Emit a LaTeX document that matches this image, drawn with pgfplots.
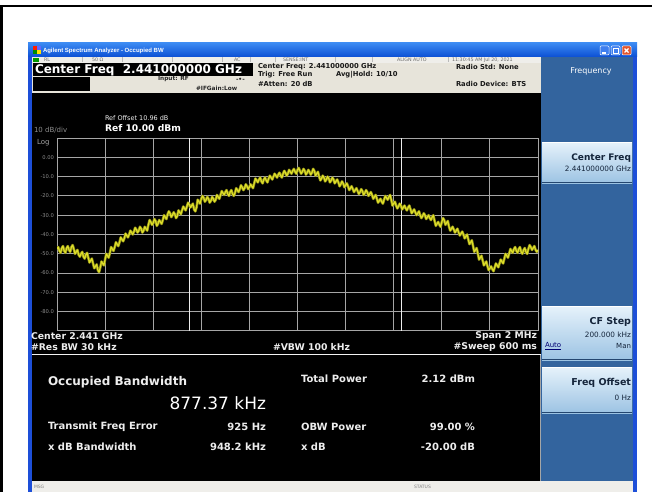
\documentclass[border=0pt]{standalone}
\usepackage{fontspec}
\setmainfont{DejaVu Sans}
\newfontfamily\lib{Liberation Sans}
\usepackage{pgfplots}
\usepackage{pgfplotstable}
\pgfplotsset{compat=1.18}
\newcommand{\fs}[1]{\fontsize{#1}{#1}\selectfont}

\definecolor{xpT}{HTML}{3C8AF2}
\definecolor{xpB}{HTML}{0B4FD4}
\definecolor{winblue}{HTML}{1D4FD8}
\definecolor{xpbtn}{HTML}{3F7FEF}
\definecolor{xpred}{HTML}{E2562E}
\definecolor{panelblue}{HTML}{33649E}
\definecolor{hdrbg}{HTML}{E7E4DA}
\definecolor{statbg}{HTML}{EFEEEA}
\definecolor{btnT}{HTML}{E6F2FB}
\definecolor{btnB}{HTML}{9CC3E3}
\definecolor{btntext}{HTML}{14243A}
\definecolor{traceY}{HTML}{DEDE2A}
\definecolor{traceO}{HTML}{8C8C16}
\definecolor{gridc}{HTML}{A6A6A6}
\definecolor{lblgray}{HTML}{8E8E8E}
\definecolor{dtext}{HTML}{EDEDED}

\pgfplotstableread{
x y
-1.000 -47.5
-0.995 -46.5
-0.990 -48.5
-0.985 -49.5
-0.980 -47
-0.975 -46
-0.970 -48.5
-0.965 -49.5
-0.960 -47
-0.955 -46
-0.950 -48
-0.945 -49
-0.940 -46.5
-0.935 -45.5
-0.930 -47.5
-0.925 -50
-0.920 -49
-0.915 -48
-0.910 -50.5
-0.905 -51.5
-0.900 -50
-0.895 -49
-0.890 -51.5
-0.885 -52.5
-0.880 -50.5
-0.875 -49.5
-0.870 -52
-0.865 -54.5
-0.860 -53.5
-0.855 -52.5
-0.850 -55
-0.845 -57.5
-0.840 -56.5
-0.835 -55.5
-0.830 -58.5
-0.825 -59.5
-0.820 -57
-0.815 -54
-0.810 -55
-0.805 -56
-0.800 -53
-0.795 -50
-0.790 -51
-0.785 -52
-0.780 -49.5
-0.775 -46.5
-0.770 -47.5
-0.765 -48.5
-0.760 -46.5
-0.755 -44
-0.750 -45
-0.745 -46
-0.740 -44
-0.735 -41.5
-0.730 -42.5
-0.725 -43.5
-0.720 -42
-0.715 -39.5
-0.710 -40.5
-0.705 -41.5
-0.700 -40
-0.695 -38
-0.690 -39
-0.685 -40
-0.680 -38.5
-0.675 -36.5
-0.670 -37.5
-0.665 -39
-0.660 -38
-0.655 -36
-0.650 -37
-0.645 -39
-0.640 -38
-0.635 -36
-0.630 -37
-0.625 -38
-0.620 -35
-0.615 -32.5
-0.610 -33.5
-0.605 -35
-0.600 -34
-0.595 -32
-0.590 -33
-0.585 -35.5
-0.580 -34.5
-0.575 -32.5
-0.570 -33.5
-0.565 -34.5
-0.560 -32.5
-0.555 -30
-0.550 -31
-0.545 -32
-0.540 -29.5
-0.535 -28
-0.530 -29
-0.525 -31
-0.520 -30
-0.515 -28.5
-0.510 -29.5
-0.505 -31.5
-0.500 -30.5
-0.495 -27.5
-0.490 -28.5
-0.485 -29.5
-0.480 -27.5
-0.475 -25.5
-0.470 -26.5
-0.465 -27.5
-0.460 -25.5
-0.455 -23.5
-0.450 -24.5
-0.445 -26
-0.440 -25
-0.435 -24
-0.430 -27
-0.425 -28
-0.420 -26
-0.415 -22
-0.410 -23
-0.405 -24
-0.400 -21.5
-0.395 -20
-0.390 -21
-0.385 -23
-0.380 -22
-0.375 -20.5
-0.370 -21.5
-0.365 -23.5
-0.360 -22.5
-0.355 -20.5
-0.350 -21.5
-0.345 -23
-0.340 -22
-0.335 -19.5
-0.330 -20.5
-0.325 -21.5
-0.320 -19.5
-0.315 -17.5
-0.310 -18.5
-0.305 -19.5
-0.300 -18
-0.295 -17
-0.290 -19
-0.285 -20
-0.280 -18
-0.275 -17
-0.270 -19
-0.265 -20
-0.260 -18.5
-0.255 -16
-0.250 -17
-0.245 -18
-0.240 -16.5
-0.235 -14.5
-0.230 -15.5
-0.225 -17
-0.220 -16
-0.215 -14
-0.210 -15
-0.205 -16.5
-0.200 -15.5
-0.195 -14
-0.190 -15
-0.185 -16
-0.180 -13.5
-0.175 -11
-0.170 -12
-0.165 -13
-0.160 -11.5
-0.155 -10.5
-0.150 -12.5
-0.145 -13.5
-0.140 -11.5
-0.135 -10.5
-0.130 -12
-0.125 -13
-0.120 -11
-0.115 -9.5
-0.110 -10.5
-0.105 -11.5
-0.100 -10
-0.095 -8.5
-0.090 -9.5
-0.085 -10.5
-0.080 -9
-0.075 -8
-0.070 -9.5
-0.065 -10.5
-0.060 -8.5
-0.055 -7
-0.050 -8
-0.045 -9.5
-0.040 -8.5
-0.035 -6.5
-0.030 -7.5
-0.025 -8.5
-0.020 -7
-0.015 -6
-0.010 -7.5
-0.005 -8.5
0.000 -6.5
0.005 -5.5
0.010 -7
0.015 -8.5
0.020 -7.5
0.025 -6
0.030 -7
0.035 -9
0.040 -8
0.045 -6.5
0.050 -7.5
0.055 -9
0.060 -8
0.065 -6
0.070 -7
0.075 -9.5
0.080 -8.5
0.085 -7.5
0.090 -10
0.095 -12
0.100 -11
0.105 -9.5
0.110 -10.5
0.115 -12.5
0.120 -11.5
0.125 -10
0.130 -11
0.135 -13
0.140 -12
0.145 -10.5
0.150 -11.5
0.155 -13.5
0.160 -12.5
0.165 -11.5
0.170 -13
0.175 -15
0.180 -14
0.185 -12.5
0.190 -13.5
0.195 -15.5
0.200 -14.5
0.205 -13.5
0.210 -15
0.215 -17
0.220 -16
0.225 -15
0.230 -16.5
0.235 -18
0.240 -17
0.245 -16
0.250 -17.5
0.255 -19
0.260 -18
0.265 -16.5
0.270 -17.5
0.275 -19.5
0.280 -18.5
0.285 -17
0.290 -18
0.295 -20
0.300 -19
0.305 -18
0.310 -19.5
0.315 -21.5
0.320 -20.5
0.325 -19.5
0.330 -21.5
0.335 -23.5
0.340 -22.5
0.345 -21.5
0.350 -23
0.355 -24
0.360 -22
0.365 -20
0.370 -21
0.375 -22
0.380 -20.5
0.385 -19.5
0.390 -22
0.395 -25
0.400 -24
0.405 -23
0.410 -25
0.415 -26.5
0.420 -25.5
0.425 -24
0.430 -25
0.435 -27
0.440 -26
0.445 -25
0.450 -26.5
0.455 -27.5
0.460 -26
0.465 -25
0.470 -27
0.475 -29
0.480 -28
0.485 -27
0.490 -28.5
0.495 -30
0.500 -29
0.505 -28
0.510 -30
0.515 -31.5
0.520 -30.5
0.525 -29
0.530 -30
0.535 -32
0.540 -31
0.545 -30
0.550 -31.5
0.555 -32.5
0.560 -31
0.565 -30
0.570 -33
0.575 -35.5
0.580 -34.5
0.585 -33.5
0.590 -35
0.595 -36
0.600 -33.5
0.605 -31.5
0.610 -32.5
0.615 -35
0.620 -34
0.625 -33
0.630 -36
0.635 -38
0.640 -37
0.645 -36
0.650 -37.5
0.655 -39
0.660 -38
0.665 -37
0.670 -39
0.675 -40.5
0.680 -39.5
0.685 -38.5
0.690 -40
0.695 -42
0.700 -41
0.705 -40
0.710 -42.5
0.715 -45
0.720 -44
0.725 -43
0.730 -46
0.735 -49
0.740 -48
0.745 -47
0.750 -50
0.755 -53
0.760 -52
0.765 -51
0.770 -53.5
0.775 -56
0.780 -55
0.785 -54
0.790 -56.5
0.795 -58.5
0.800 -57.5
0.805 -56.5
0.810 -58
0.815 -59
0.820 -57
0.825 -55
0.830 -56
0.835 -57
0.840 -55
0.845 -53
0.850 -54
0.855 -55
0.860 -52.5
0.865 -50
0.870 -51
0.875 -52
0.880 -50
0.885 -47.5
0.890 -48.5
0.895 -49.5
0.900 -47.5
0.905 -46.5
0.910 -48.5
0.915 -49.5
0.920 -47.5
0.925 -46.5
0.930 -49
0.935 -50
0.940 -48
0.945 -47
0.950 -49
0.955 -50
0.960 -47.5
0.965 -45.5
0.970 -46.5
0.975 -48
0.980 -47
0.985 -46
0.990 -48
0.995 -49
1.000 -48
}\tracedata

\begin{document}
\begin{tikzpicture}[every node/.style={inner sep=0pt, outer sep=0pt}]
\useasboundingbox (0,0) rectangle (652pt,-492pt);
\begin{scope}[x=1pt,y=-1pt]
  \fill[white] (0,0) rectangle (652,492);
  \fill[black] (0,5) rectangle (652,7.5);
  \fill[black] (0,5) rectangle (2.5,492);
  % window frame
  \fill[winblue] (28,43) rectangle (637,492);
  \shade[top color=xpT, bottom color=xpB] (28,43) rectangle (637,57);
  % title icon
  \fill[red!75!orange] (33,46) rectangle (37,50);
  \fill[blue!60] (37,46) rectangle (41,50);
  \fill[green!55!black] (33,50) rectangle (37,54);
  \fill[yellow!85!orange] (37,50) rectangle (41,54);
  % title buttons
  \draw[white, fill=xpbtn, rounded corners=1pt, line width=0.5pt] (600,46) rectangle (609,55);
  \fill[white] (602,52.3) rectangle (605.5,53.6);
  \draw[white, fill=xpbtn, rounded corners=1pt, line width=0.5pt] (611,46) rectangle (620,55);
  \draw[white, line width=0.6pt] (613,48.5) rectangle (618,53);
  \fill[white] (613,48.3) rectangle (618,49.5);
  \draw[white, fill=xpred, rounded corners=1pt, line width=0.5pt] (622,46) rectangle (631,55);
  \draw[white, line width=1.1pt] (624.5,48.5)--(628.5,52.5) (628.5,48.5)--(624.5,52.5);
  % status row
  \fill[statbg] (32,57) rectangle (541,63);
  \foreach \sx in {82,122,172,222,250,275,335,372,448}{
    \draw[gray!55, line width=0.4pt] (\sx,57.5) -- (\sx,62.5);
  }
  \fill[green!60!black] (33,57.6) rectangle (39,62.4);
  % header
  \fill[hdrbg] (32,63) rectangle (541,93);
  \fill[black] (33,63.5) rectangle (253,76.5);
  \fill[black] (33,77) rectangle (90,91.5);
  % right panel
  \fill[panelblue] (541,57) rectangle (633,481);
  % display area
  \fill[black] (32,93) rectangle (541,354);
  \fill[black] (32,355) rectangle (541,481);
  \draw[white!90!gray, line width=1.2pt] (32,354.5) -- (541,354.5);
  \draw[gray!70, line width=0.8pt] (540.3,355) -- (540.3,481);
  % status bar
  \fill[statbg] (32,481) rectangle (633,492);
  % buttons
  \shade[top color=btnT, bottom color=btnB] (542,142) rectangle (632,183);
  \draw[white, line width=1pt] (542,142.5) -- (632,142.5);
  \draw[panelblue!70!black, line width=0.6pt] (542,182.7) -- (632,182.7);
  \shade[top color=btnT, bottom color=btnB] (542,306) rectangle (632,360);
  \draw[white, line width=1pt] (542,306.5) -- (632,306.5);
  \draw[panelblue!70!black, line width=0.6pt] (542,359.7) -- (632,359.7);
  \shade[top color=btnT, bottom color=btnB] (542,367) rectangle (632,413);
  \draw[white, line width=1pt] (542,367.5) -- (632,367.5);
  \draw[panelblue!70!black, line width=0.6pt] (542,412.7) -- (632,412.7);
\end{scope}

\begin{axis}[
  at={(57pt,-138pt)}, anchor=north west,
  scale only axis, width=481pt, height=193pt,
  xmin=-1, xmax=1, ymin=-90, ymax=10,
  xtick={-0.8,-0.6,-0.4,-0.2,0,0.2,0.4,0.6,0.8},
  ytick={-80,-70,-60,-50,-40,-30,-20,-10,0},
  xticklabels={}, yticklabels={},
  major tick length=0pt,
  grid=major, grid style={gridc, line width=0.9pt},
  axis line style={gridc, line width=1pt},
  axis background/.style={fill=black},
]
\addplot[white!85!gray, line width=1pt, forget plot] coordinates {(-0.447,-90) (-0.447,10)};
\addplot[white!85!gray, line width=1pt, forget plot] coordinates {(0.434,-90) (0.434,10)};
\addplot[traceO, line width=2.6pt, line join=round, forget plot] table[x=x,y=y] {\tracedata};
\addplot[traceY, line width=1.2pt, line join=round] table[x=x,y=y] {\tracedata};
\end{axis}

\begin{scope}[x=1pt,y=-1pt]
  % title text
  \node[anchor=west, text=white] at (43,50.5) {\lib\bfseries\fs{6}Agilent Spectrum Analyzer - Occupied BW};
  % status row text
  \begin{scope}[every node/.append style={anchor=west, text=gray!85!black, font=\fs{4.8}}]
    \node at (44,60.2) {RL};
    \node at (92,60.2) {50 Ω};
    \node at (234,60.2) {AC};
    \node at (283,60.2) {SENSE:INT};
    \node at (397,60.2) {ALIGN AUTO};
    \node at (452,60.2) {11:30:45 AM Jul 20, 2021};
  \end{scope}
  % header text
  \node[anchor=west, text=white] at (35,70.2) {\bfseries\fs{12}Center Freq\ \ 2.441000000 GHz};
  \begin{scope}[every node/.append style={anchor=west, text=black!90, font=\bfseries\fs{6.8}}]
    \node at (258,66.5) {Center Freq: 2.441000000 GHz};
    \node at (258,75) {Trig: Free Run};
    \node at (336,75) {Avg|Hold: 10/10};
    \node at (258,84) {\#Atten: 20 dB};
    \node at (456,66.5) {Radio Std: None};
    \node at (456,84) {Radio Device: BTS};
  \end{scope}
  \node[anchor=west, text=black!85] at (158,79) {\bfseries\fs{5.8}Input: RF};
  \node[anchor=west, text=black!85] at (236,80) {\bfseries\fs{6}-•-};
  \node[anchor=west, text=black!85] at (196,88) {\bfseries\fs{5.8}\#IFGain:Low};
  % display header
  \node[anchor=west, text=dtext] at (105,118) {\fs{6.5}Ref Offset 10.96 dB};
  \node[anchor=west, text=lblgray] at (34,130) {\fs{7}10 dB/div};
  \node[anchor=west, text=white] at (105,128.5) {\bfseries\fs{9.2}Ref 10.00 dBm};
  \node[anchor=west, text=lblgray!80!white] at (37,142.5) {\fs{7}Log};
  \foreach \k/\lab in {1/0.00,2/-10.0,3/-20.0,4/-30.0,5/-40.0,6/-50.0,7/-60.0,8/-70.0,9/-80.0}{
    \node[anchor=east, text=lblgray] at (54,138+19.3*\k) {\fs{5.2}\lab};
  }
  % bottom info
  \begin{scope}[every node/.append style={text=dtext, font=\bfseries\fs{9.3}}]
    \node[anchor=west] at (31,336) {Center 2.441 GHz};
    \node[anchor=west] at (31,347) {\#Res BW 30 kHz};
    \node[anchor=west] at (273,347) {\#VBW 100 kHz};
    \node[anchor=east] at (537,336) {Span 2 MHz};
    \node[anchor=east] at (537,347) {\#Sweep 600 ms};
  \end{scope}
  % lower box
  \node[anchor=west, text=dtext] at (48,382) {\bfseries\fs{12}Occupied Bandwidth};
  \node[anchor=east, text=white] at (266,403) {\fs{17}877.37 kHz};
  \begin{scope}[every node/.append style={text=dtext, font=\bfseries\fs{10}}]
    \node[anchor=west] at (301,379) {Total Power};
    \node[anchor=east] at (475,379) {2.12 dBm};
    \node[anchor=west] at (48,427) {Transmit Freq Error};
    \node[anchor=east] at (266,427) {925 Hz};
    \node[anchor=west] at (301,427) {OBW Power};
    \node[anchor=east] at (475,427) {99.00 \%};
    \node[anchor=west] at (48,447) {x dB Bandwidth};
    \node[anchor=east] at (266,447) {948.2 kHz};
    \node[anchor=west] at (301,447) {x dB};
    \node[anchor=east] at (475,447) {-20.00 dB};
  \end{scope}
  % status bar
  \node[anchor=west, text=gray] at (34,486.5) {\fs{4.5}MSG};
  \node[anchor=west, text=gray] at (414,486.5) {\fs{4.5}STATUS};
  % right panel
  \node[text=white] at (591,71) {\fs{8}Frequency};
  \node[anchor=east, text=btntext] at (631,158) {\bfseries\fs{9}Center Freq};
  \node[anchor=east, text=btntext] at (631,168.5) {\fs{7.3}2.441000000 GHz};
  \node[anchor=east, text=btntext] at (631,322) {\bfseries\fs{9.5}CF Step};
  \node[anchor=east, text=btntext] at (631,334.5) {\fs{7.3}200.000 kHz};
  \node[anchor=west, text=blue!45!black] at (545,346) {\fs{7}\underline{Auto}};
  \node[anchor=east, text=btntext] at (631,346) {\fs{7}Man};
  \node[anchor=east, text=btntext] at (631,383) {\bfseries\fs{9.5}Freq Offset};
  \node[anchor=east, text=btntext] at (631,398) {\fs{7.3}0 Hz};
\end{scope}
\end{tikzpicture}
\end{document}
